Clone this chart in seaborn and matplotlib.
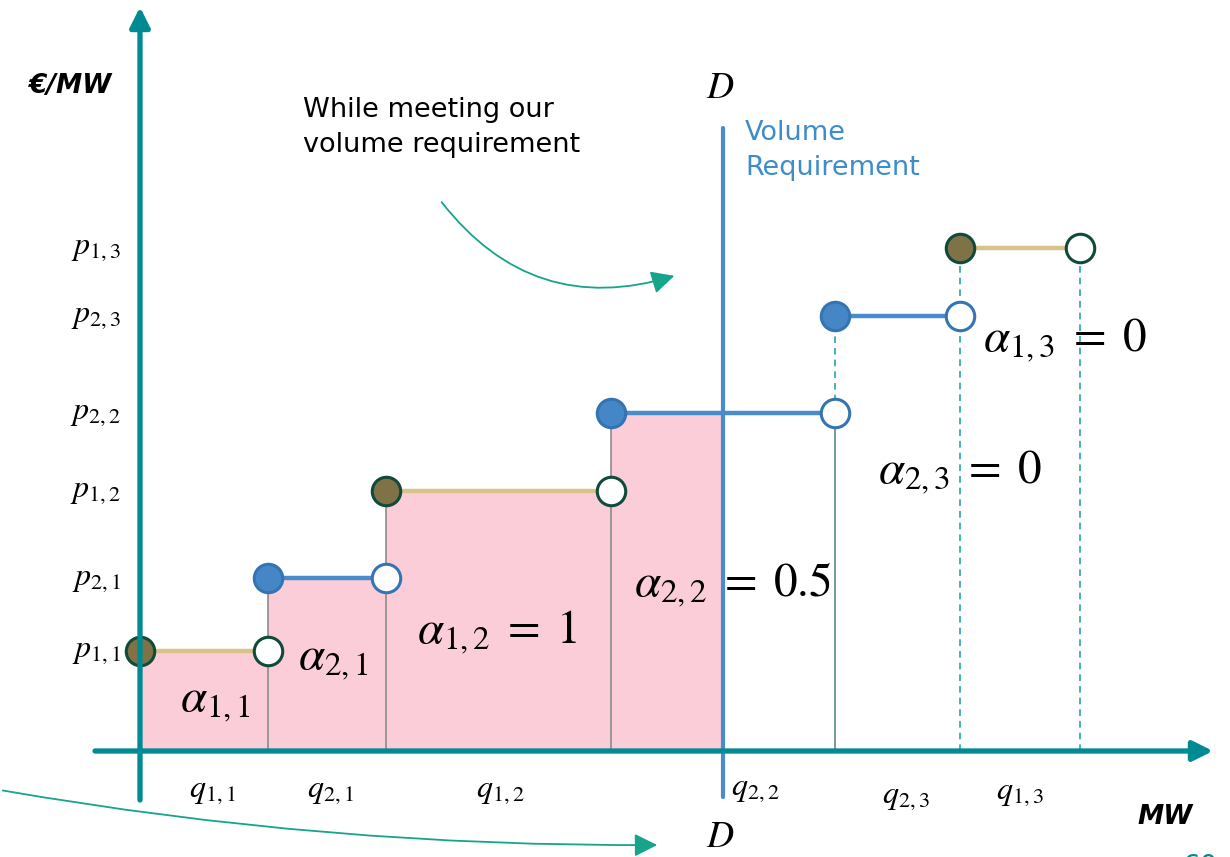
import numpy as np
import pandas as pd
import matplotlib
matplotlib.use("Agg")
import matplotlib.pyplot as plt
import seaborn as sns
from matplotlib.patches import FancyArrowPatch

# Merit-order bids (sorted by price)
bid_labels = ["1,1", "2,1", "1,2", "2,2", "2,3", "1,3"]
bid_supplier = [1, 2, 1, 2, 2, 1]
bid_quantity = [12.8, 11.8, 22.5, 22.4, 12.5, 12.0]   # MW
bid_price = [10.0, 17.3, 26.0, 33.8, 43.5, 50.3]      # €/MW
bid_alpha = [1, 1, 1, 0.5, 0, 0]                      # accepted share of each bid
alpha_text = [None, None, "1", "0.5", "0", "0"]

# colours
TEAL = "#008a93"
ARROW = "#16a48a"
PINK = "#fbcdd8"
BLUE = "#4a8bcc"
TAN = "#d8c489"
OLIVE = "#7f7247"
DKGREEN = "#0f4a3a"
BLUE_FACE = "#4486c6"
BLUE_EDGE = "#3574b4"
GREY = "#8c8c8c"
DASH = "#2aa3b3"

sns.set_theme(style="white")
plt.rcParams["font.family"] = ["DejaVu Sans"]
plt.rcParams["mathtext.fontset"] = "stix"
plt.rcParams["text.color"] = "black"

fig = plt.figure(figsize=(12.3, 8.57), dpi=100)
ax = fig.add_axes([0, 0, 1, 1])
ax.set_xlim(-14, 109)
ax.set_ylim(-10.6, 75.1)
ax.axis("off")

q = np.array(bid_quantity)
p = np.array(bid_price)
a = np.array(bid_alpha, dtype=float)
starts = np.concatenate([[0], np.cumsum(q)[:-1]])
ends = starts + q
demand = float(np.sum(a * q))

# accepted area
for s, qq, pp, aa in zip(starts, q, p, a):
    if aa > 0:
        ax.fill_between([s, s + aa * qq], 0, pp, color=PINK, lw=0, zorder=1)

# vertical guides at the end of each bid
for i, (e, pp, aa) in enumerate(zip(ends, p, a)):
    nxt = p[i + 1] if i + 1 < len(p) else None
    if aa > 0:
        col = GREY if aa >= 1 else "#5e8c84"
        ax.plot([e, e], [0, pp], color=col, lw=1.2, zorder=2)
        if nxt is not None:
            if a[i + 1] > 0:
                ax.plot([e, e], [pp, nxt], color=GREY, lw=1.2, zorder=2)
            else:
                ax.plot([e, e], [pp, nxt], color=DASH, lw=1.2, ls=(0, (4, 3)), zorder=2)
    else:
        top = max(pp, nxt) if nxt is not None else pp
        ax.plot([e, e], [0, top], color=DASH, lw=1.2, ls=(0, (4, 3)), zorder=2)

# horizontal bid segments
seg = pd.DataFrame({
    "x": np.concatenate([starts, ends]),
    "y": np.concatenate([p, p]),
    "bid": bid_labels * 2,
    "supplier": bid_supplier * 2,
})
sns.lineplot(data=seg, x="x", y="y", units="bid", hue="supplier", estimator=None,
             palette={1: TAN, 2: BLUE}, lw=3.2, legend=False, ax=ax, zorder=3)

# bid start (filled) and end (open) markers
pts = pd.DataFrame({"start": starts, "end": ends, "price": p, "supplier": bid_supplier})
for sup, face, edge in [(1, OLIVE, DKGREEN), (2, BLUE_FACE, BLUE_EDGE)]:
    sub = pts[pts["supplier"] == sup]
    sns.scatterplot(data=sub, x="start", y="price", s=420, color=face,
                    edgecolor=edge, linewidth=2.2, ax=ax, zorder=5, legend=False)
    sns.scatterplot(data=sub, x="end", y="price", s=420, color="white",
                    edgecolor=edge, linewidth=2.2, ax=ax, zorder=5, legend=False)

# demand line
ax.plot([demand, demand], [-4.6, 62.3], color=BLUE, lw=3, zorder=4)
ax.text(demand - 0.3, 66.3, "$D$", fontsize=27, ha="center", va="center", color="black")
ax.text(demand - 0.3, -8.6, "$D$", fontsize=27, ha="center", va="center", color="black")
ax.text(demand + 2.2, 60.0, "Volume\nRequirement", fontsize=19.5, color="#3f8ccc",
        ha="left", va="center", linespacing=1.45)

# main axes with arrow heads
ax.annotate("", xy=(107.3, 0), xytext=(-4.5, 0),
            arrowprops=dict(arrowstyle="-|>", lw=3.8, color=TEAL, mutation_scale=30,
                            shrinkA=0, shrinkB=0), zorder=6)
ax.annotate("", xy=(0, 74.4), xytext=(0, -4.9),
            arrowprops=dict(arrowstyle="-|>", lw=3.8, color=TEAL, mutation_scale=30,
                            shrinkA=0, shrinkB=0), zorder=6)
ax.text(-7.0, 66.5, "€/MW", fontsize=19, fontweight="bold", fontstyle="italic",
        ha="center", va="center", color="black")
ax.text(102.5, -6.6, "MW", fontsize=19, fontweight="bold", fontstyle="italic",
        ha="center", va="center", color="black")

# price labels on the vertical axis
for lab, pp in zip(bid_labels, p):
    ax.text(-1.9, pp, f"$p_{{{lab}}}$", fontsize=23, ha="right", va="center")

# quantity labels under the horizontal axis
q_offsets = [0.8, 0.3, 0.2, 3.2, 0.8, 0.0]
q_y = [-3.9, -3.9, -3.9, -3.8, -4.6, -4.2]
for lab, s, e, dx, yy in zip(bid_labels, starts, ends, q_offsets, q_y):
    ax.text((s + e) / 2 + dx, yy, f"$q_{{{lab}}}$", fontsize=23, ha="center", va="center")

# acceptance labels
alpha_pos = [(7.5, 5.0), (19.3, 9.1), (35.7, 11.9), (59.3, 16.6), (82.0, 27.9), (92.5, 41.1)]
for lab, txt, (xx, yy) in zip(bid_labels, alpha_text, alpha_pos):
    s = f"$\\alpha_{{{lab}}}$" if txt is None else f"$\\alpha_{{{lab}}}\\;=\\;{txt}$"
    ax.text(xx, yy, s, fontsize=34, ha="center", va="center", zorder=7)

# annotation text and curved arrows
ax.text(16.3, 62.3, "While meeting our\nvolume requirement", fontsize=19.5,
        ha="left", va="center", linespacing=1.45)
ax.add_patch(FancyArrowPatch((30.0, 55.1), (53.7, 47.6), connectionstyle="arc3,rad=0.35",
                             arrowstyle="-|>,head_length=0.7,head_width=0.35",
                             mutation_scale=20, lw=1.3, color=ARROW, zorder=6))
ax.add_patch(FancyArrowPatch((-14.0, -3.9), (52.0, -9.4), connectionstyle="arc3,rad=0.045",
                             arrowstyle="-|>,head_length=0.7,head_width=0.35",
                             mutation_scale=20, lw=1.3, color=ARROW, zorder=6))

# page number
ax.text(106.0, -11.6, "60", fontsize=20, color=TEAL, ha="center", va="center")

fig.savefig("out.png", dpi=100)
